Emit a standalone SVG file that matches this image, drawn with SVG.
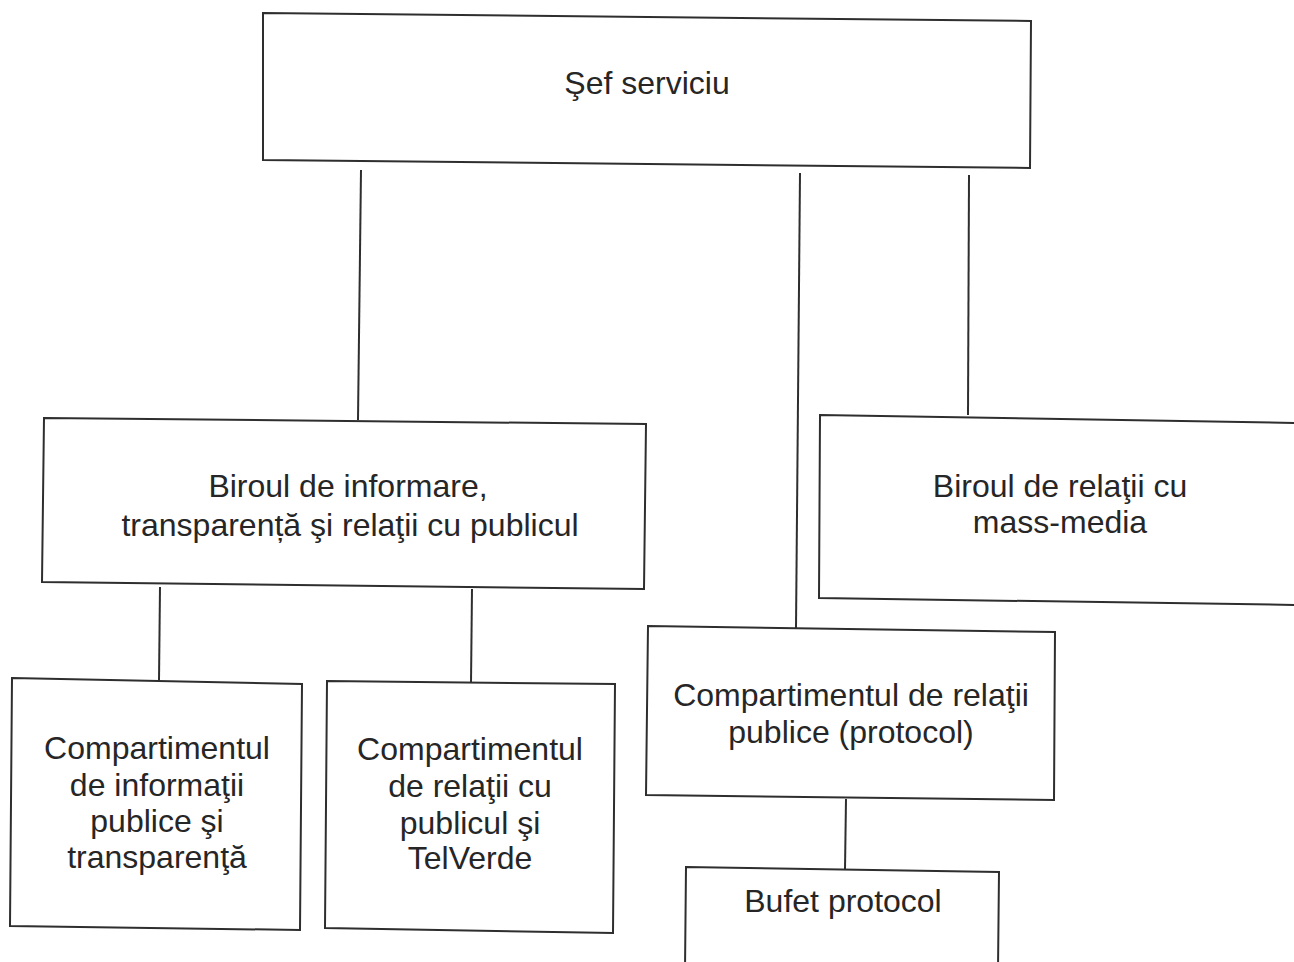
<svg xmlns="http://www.w3.org/2000/svg" width="1294" height="962" viewBox="0 0 1294 962">
<style>
.box{fill:#ffffff;stroke:#2e2e2e;stroke-width:2}
.ln{stroke:#2e2e2e;stroke-width:2;fill:none}
.t{font-family:"Liberation Sans",Arial,sans-serif;font-size:32px;fill:#262626;text-anchor:middle}
</style>
<rect width="1294" height="962" fill="#ffffff"/>
<g id="connectors">
<line class="ln" x1="361" y1="170" x2="358" y2="420"/>
<line class="ln" x1="800" y1="173" x2="796" y2="628"/>
<line class="ln" x1="969" y1="175" x2="968" y2="415"/>
<line class="ln" x1="160" y1="587" x2="159" y2="680"/>
<line class="ln" x1="472" y1="589" x2="471" y2="683"/>
<line class="ln" x1="846" y1="799" x2="845" y2="869"/>
</g>
<g id="sef">
<polygon class="box" points="263,13 1031,21 1030,168 263,160"/>
<text class="t" x="647" y="94">Şef serviciu</text>
</g>
<g id="birou-informare">
<polygon class="box" points="44,418 646,424 644,589 42,582"/>
<text class="t" x="348" y="497">Biroul de informare,</text>
<text class="t" x="350" y="536">transparență şi relaţii cu publicul</text>
</g>
<g id="birou-media">
<polygon class="box" points="820,415 1300,423 1300,605 819,598"/>
<text class="t" x="1060" y="497">Biroul de relaţii cu</text>
<text class="t" x="1060" y="533">mass-media</text>
</g>
<g id="comp-informatii">
<polygon class="box" points="12,678 302,684 300,930 10,926"/>
<text class="t" x="157" y="759">Compartimentul</text>
<text class="t" x="157" y="796">de informaţii</text>
<text class="t" x="157" y="832">publice şi</text>
<text class="t" x="157" y="868">transparenţă</text>
</g>
<g id="comp-telverde">
<polygon class="box" points="327,681 615,684 613,933 325,928"/>
<text class="t" x="470" y="760">Compartimentul</text>
<text class="t" x="470" y="797">de relaţii cu</text>
<text class="t" x="470" y="834">publicul şi</text>
<text class="t" x="470" y="869">TelVerde</text>
</g>
<g id="comp-protocol">
<polygon class="box" points="648,626 1055,632 1054,800 646,795"/>
<text class="t" x="851" y="706">Compartimentul de relaţii</text>
<text class="t" x="851" y="743">publice (protocol)</text>
</g>
<g id="bufet">
<polygon class="box" points="686,867 999,872 998,970 685,970"/>
<text class="t" x="843" y="912">Bufet protocol</text>
</g>
</svg>
